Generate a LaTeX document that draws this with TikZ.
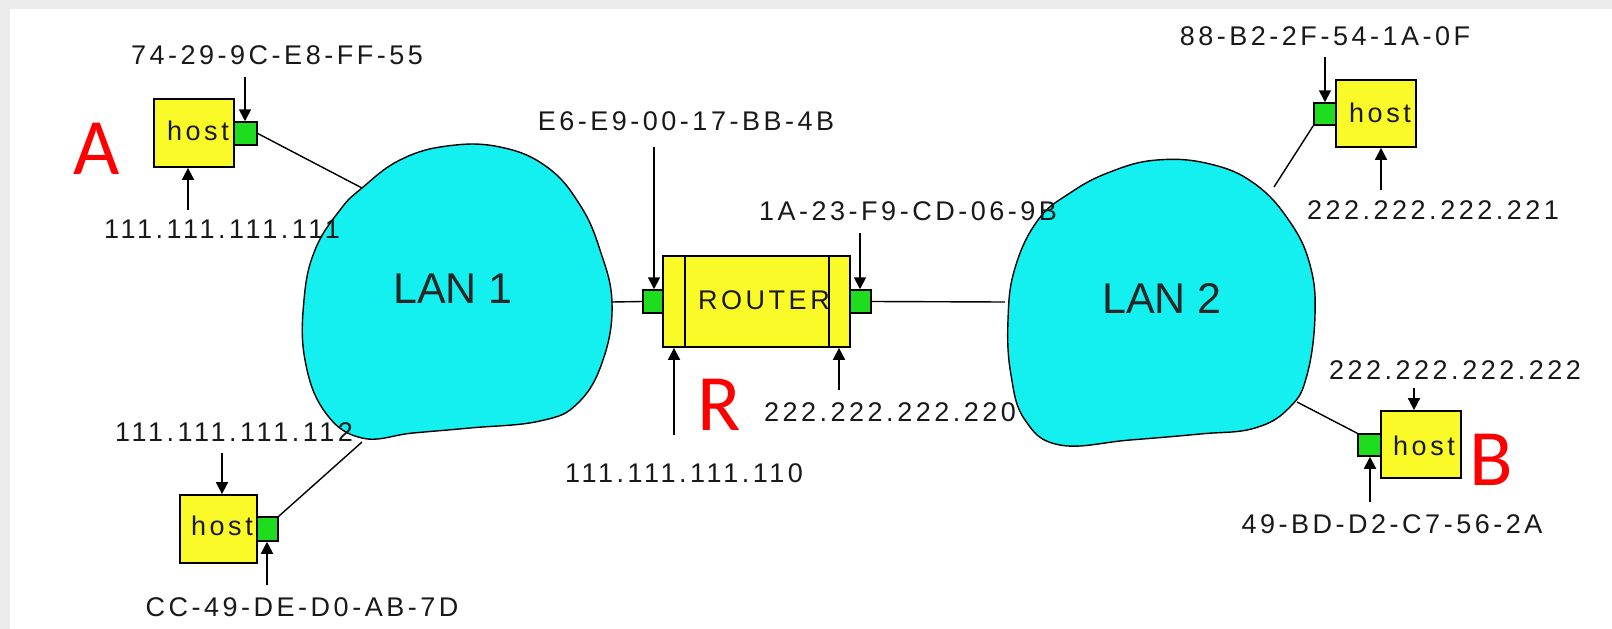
\documentclass[tikz,border=0pt]{standalone}
\usepackage{fontspec}
\setmainfont{Liberation Sans}
\newfontfamily\labfont[LetterSpace=13]{Liberation Sans}
\newfontfamily\redfont{Carlito}
\usetikzlibrary{arrows.meta}
\definecolor{bgray}{RGB}{235,235,235}
\definecolor{hostyellow}{RGB}{250,250,40}
\definecolor{portgreen}{RGB}{30,220,30}
\definecolor{lancyan}{RGB}{20,240,240}
\definecolor{txt}{RGB}{25,25,25}
\begin{document}
\begin{tikzpicture}[x=1pt,y=-1pt,
  lab/.style={font=\labfont\fontsize{27}{30}\selectfont, text=txt, inner sep=0pt},
  hostbox/.style={draw=black, line width=1.8pt, fill=hostyellow, rectangle, inner sep=0pt},
  port/.style={draw=black, line width=1.5pt, fill=portgreen, rectangle, inner sep=0pt},
  hosttxt/.style={lab, anchor=west},
  arr/.style={line width=1.8pt, -{Triangle[width=12pt,length=12pt]}},
  wire/.style={line width=1.4pt},
  lan/.style={draw=black, line width=1.4pt, fill=lancyan},
  lantxt/.style={font=\fontsize{43}{48}\selectfont, text=black!85, inner sep=0pt},
  redlab/.style={font=\redfont\fontsize{80}{90}\selectfont, text=red, inner sep=0pt}
]
\useasboundingbox (0,0) rectangle (1612,629);
\fill[bgray] (0,0) rectangle (1612,629);
\fill[white] (10,9) rectangle (1612,629);

% LAN clouds
\draw[lan] plot[smooth cycle, tension=0.7] coordinates {
  (447,146) (500,147) (547,167) (580,205) (600,250) (612,303)
  (603,360) (578,403) (540,421) (470,428) (413,433) (362,438)
  (325,412) (305,360) (304,300) (315,250) (340,210) (362,188) (400,160)};
\node[lantxt] (lan1) at (453,289) {LAN 1};
\draw[lan] plot[smooth cycle, tension=0.7] coordinates {
  (1157,160) (1210,164) (1255,184) (1290,222) (1310,265) (1315,315)
  (1307,375) (1290,407) (1255,428) (1200,434) (1130,440) (1060,445)
  (1025,420) (1011,375) (1008,320) (1015,268) (1038,220) (1070,193) (1110,172)};
\node[lantxt] (lan2) at (1162,298) {LAN 2};

\coordinate (l1a) at (362,188);
\coordinate (l1c) at (362,442);
\coordinate (l1r) at (612,302);
\coordinate (l2l) at (1005,302);
\coordinate (l2d) at (1274,187);
\coordinate (l2b) at (1297,402);

% hosts
\node[hostbox, minimum width=80pt, minimum height=68pt] (hA) at (194,133) {};
\node[hosttxt] (tA) at (167,131) {host};
\node[port, minimum width=23pt, minimum height=23pt] (pA) at (245.5,133.5) {};

\node[hostbox, minimum width=77pt, minimum height=68pt] (hC) at (218.5,529) {};
\node[hosttxt] (tC) at (191,526) {host};
\node[port, minimum width=21pt, minimum height=24pt] (pC) at (267.5,529) {};

\node[hostbox, minimum width=80pt, minimum height=67pt] (hD) at (1376,113.5) {};
\node[hosttxt] (tD) at (1349,113) {host};
\node[port, minimum width=22pt, minimum height=22pt] (pD) at (1325,114) {};

\node[hostbox, minimum width=80pt, minimum height=67pt] (hB) at (1421,444.5) {};
\node[hosttxt] (tB) at (1393,446) {host};
\node[port, minimum width=23pt, minimum height=22pt] (pB) at (1369.5,445) {};

% router
\node[hostbox, minimum width=187pt, minimum height=91pt] (rt) at (756.5,301.5) {};
\draw[line width=1.4pt] (685,256) -- (685,347) (829,256) -- (829,347);
\node[hosttxt] (trt) at (698,300) {ROUTER};
\node[port, minimum width=20pt, minimum height=23pt] (pL) at (653,301.5) {};
\node[port, minimum width=21pt, minimum height=23pt] (pR) at (860.5,301.5) {};

% wires
\draw[wire] (pA.east) -- (l1a);
\draw[wire] (pC.north east) -- (l1c);
\draw[wire] (l1r) -- (pL.west);
\draw[wire] (pR.east) -- (l2l);
\draw[wire] (pD.south west) -- (l2d);
\draw[wire] (pB.north west) -- (l2b);

% labels and arrows
\node[lab] (macA) at (277,55) {74-29-9C-E8-FF-55};
\coordinate (macAs) at (245,77);
\draw[arr] (macAs) -- (macAs |- pA.north);
\node[lab] (ipA) at (222,229) {111.111.111.111};
\coordinate (ipAs) at (188,210);
\draw[arr] (ipAs) -- (ipAs |- hA.south);

\node[lab] (ipC) at (234,432) {111.111.111.112};
\coordinate (ipCs) at (222,453);
\draw[arr] (ipCs) -- (ipCs |- hC.north);
\node[lab] (macC) at (302,607) {CC-49-DE-D0-AB-7D};
\coordinate (macCs) at (267,585);
\draw[arr] (macCs) -- (macCs |- pC.south);

\node[lab] (macL) at (686,121) {E6-E9-00-17-BB-4B};
\coordinate (macLs) at (654,147);
\draw[arr] (macLs) -- (macLs |- pL.north);
\node[lab] (macR) at (908,211) {1A-23-F9-CD-06-9B};
\coordinate (macRs) at (860,233);
\draw[arr] (macRs) -- (macRs |- pR.north);
\node[lab] (ipL) at (684,473) {111.111.111.110};
\coordinate (ipLs) at (674,435);
\draw[arr] (ipLs) -- (ipLs |- rt.south);
\node[lab] (ipR) at (890,412) {222.222.222.220};
\coordinate (ipRs) at (839,390);
\draw[arr] (ipRs) -- (ipRs |- rt.south);

\node[lab] (macD) at (1325,36) {88-B2-2F-54-1A-0F};
\coordinate (macDs) at (1325,57);
\draw[arr] (macDs) -- (macDs |- pD.north);
\node[lab] (ipD) at (1433,210) {222.222.222.221};
\coordinate (ipDs) at (1381,190);
\draw[arr] (ipDs) -- (ipDs |- hD.south);

\node[lab] (ipB) at (1455,370) {222.222.222.222};
\coordinate (ipBs) at (1414,388);
\draw[arr] (ipBs) -- (ipBs |- hB.north);
\node[lab] (macB) at (1392,524) {49-BD-D2-C7-56-2A};
\coordinate (macBs) at (1370,502);
\draw[arr] (macBs) -- (macBs |- pB.south);

% red letters
\node[redlab] (lA) at (97,149) {A};
\node[redlab] (lR) at (719,405) {R};
\node[redlab] (lB) at (1491,460) {B};
\end{tikzpicture}
\end{document}
